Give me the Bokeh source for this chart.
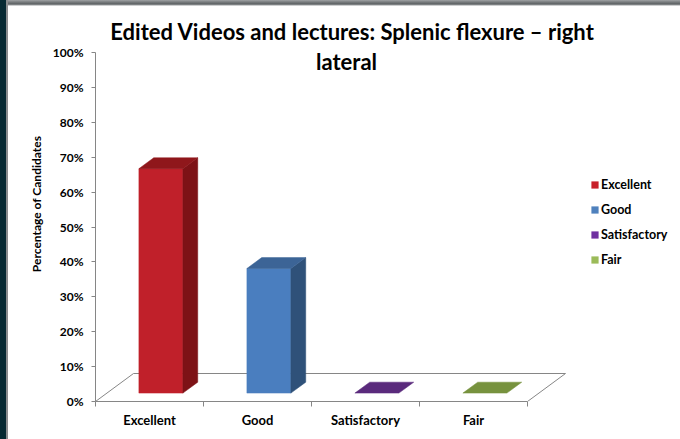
from bokeh.plotting import figure
from bokeh.models import Range1d, FixedTicker, NumeralTickFormatter, Legend, LegendItem, ColumnDataSource
from bokeh.core.properties import value
from bokeh.embed import file_html
from bokeh.resources import INLINE

# ---- data ----
categories = ["Excellent", "Good", "Satisfactory", "Fair"]
percentages = [64.3, 35.7, 0.0, 0.0]
front_colors = ["#C0202A", "#4A7EBF", "#5E2B82", "#77933C"]
side_colors = ["#7D1216", "#2F5179", "#3F1D57", "#55692A"]
top_colors = ["#8F171B", "#3C6496", "#5A2A7C", "#77923E"]
legend_colors = ["#C8202A", "#4F81BD", "#7030A0", "#9BBB59"]
y_ticks = [0.0, 0.1, 0.2, 0.3, 0.4, 0.5, 0.6, 0.7, 0.8, 0.9, 1.0]
title_line1 = "Edited Videos and lectures: Splenic flexure \u2013 right"
title_line2 = "lateral"
y_label = "Percentage of Candidates"

# ---- layout (page is padded 8px left / 6px top) ----
PAD_L, PAD_T = 8, 6
W, H = 672, 433
LEFT, BOTTOM = 87, 38
PX_CAT = 108.0      # pixels per category
PX_FULL = 349.0     # pixels per 100%
x_end = (W - LEFT) / PX_CAT
y_end = (H - BOTTOM) / PX_FULL
AX_X = PAD_L + LEFT          # page x of the value axis
AX_Y = PAD_T + H - BOTTOM    # page y of the 0% line

DX = 38.0 / PX_CAT   # floor depth in x units
DY = 28.0 / PX_FULL  # floor depth in y units
BW = 44.0 / PX_CAT   # bar front width
Z0, Z1 = 0.30, 0.69  # bar depth (front/back) as fraction of floor depth
AXIS_GRAY = "#868686"
FONT = "Lato"

p = figure(width=W, height=H, x_range=Range1d(0, x_end), y_range=Range1d(0, y_end),
           output_backend="svg", toolbar_location=None,
           min_border_left=LEFT, min_border_bottom=BOTTOM, min_border_top=0, min_border_right=0,
           background_fill_color="white", border_fill_color="white", outline_line_color=None)
p.xgrid.visible = False
p.ygrid.visible = False

# y axis
ya = p.yaxis[0]
ya.ticker = FixedTicker(ticks=y_ticks)
ya.formatter = NumeralTickFormatter(format="0%")
ya.bounds = (0, 1)
ya.axis_line_color = AXIS_GRAY
ya.major_tick_line_color = AXIS_GRAY
ya.major_tick_in = 0
ya.major_tick_out = 4
ya.minor_tick_line_color = None
ya.major_label_standoff = 8
ya.major_label_text_font = FONT
ya.major_label_text_font_style = "bold"
ya.major_label_text_font_size = "12px"
ya.major_label_text_color = "black"
ya.axis_label = y_label
ya.axis_label_text_font = FONT
ya.axis_label_text_font_style = "bold"
ya.axis_label_text_font_size = "12px"
ya.axis_label_text_color = "black"
ya.axis_label_standoff = 6

# x axis
n = len(categories)
centers = [i + 0.5 for i in range(n)]
xa = p.xaxis[0]
xa.ticker = FixedTicker(ticks=centers, minor_ticks=list(range(n + 1)))
xa.major_label_overrides = {c: cat for c, cat in zip(centers, categories)}
xa.bounds = (0, n)
xa.axis_line_color = AXIS_GRAY
xa.major_tick_line_color = None
xa.major_tick_in = 0
xa.major_tick_out = 0
xa.minor_tick_line_color = AXIS_GRAY
xa.minor_tick_in = 0
xa.minor_tick_out = 5
xa.major_label_standoff = 5
xa.major_label_text_font = FONT
xa.major_label_text_font_style = "bold"
xa.major_label_text_font_size = "13px"
xa.major_label_text_color = "black"

# floor outline (back + sides)
p.line(x=[0, DX, n + DX, n], y=[0, DY, DY, 0], line_color=AXIS_GRAY, line_width=1)

# 3D bars
xs, ys, cols = [], [], []
dx = (Z1 - Z0) * DX
dy = (Z1 - Z0) * DY
for c, v, fc, sc, tc in zip(centers, percentages, front_colors, side_colors, top_colors):
    h = v / 100.0
    x0 = c - BW / 2 + Z0 * DX
    x1 = x0 + BW
    b = Z0 * DY
    t = b + h
    if h > 0:
        xs.append([x0, x1, x1, x0]); ys.append([b, b, t, t]); cols.append(fc)
        xs.append([x1, x1 + dx, x1 + dx, x1]); ys.append([b, b + dy, t + dy, t]); cols.append(sc)
    xs.append([x0, x1, x1 + dx, x0 + dx]); ys.append([t, t, t + dy, t + dy]); cols.append(tc)
src = ColumnDataSource(dict(xs=xs, ys=ys, c=cols))
p.patches(xs="xs", ys="ys", source=src, fill_color="c", line_color="c", line_width=0.5)

# title (positions given in page pixels, converted to data units)
p.text(x=[(352 - AX_X) / PX_CAT, (346 - AX_X) / PX_CAT],
       y=[(AX_Y - 31) / PX_FULL, (AX_Y - 61) / PX_FULL],
       text=[title_line1, title_line2],
       text_font=value(FONT), text_font_style="bold", text_font_size="22px",
       text_align="center", text_baseline="middle", text_color="black")

# legend (dummy renderers with a single NaN point so the swatch colour exists)
nan = float("nan")
items = []
for cat, col in zip(categories, legend_colors):
    r = p.quad(left=[nan], right=[nan], top=[nan], bottom=[nan], fill_color=col, line_color=None)
    items.append(LegendItem(label=cat, renderers=[r]))
legend = Legend(items=items, location=(590 - AX_X, AX_Y - 267), orientation="vertical",
                glyph_width=9, glyph_height=9, label_standoff=2, label_height=14,
                spacing=10, padding=0, margin=0, border_line_color=None,
                background_fill_alpha=0, label_text_font=FONT,
                label_text_font_style="bold", label_text_font_size="12.5px",
                label_text_color="black")
p.add_layout(legend)

html = file_html(p, INLINE)
style = ("<style>\n"
         "html, body { margin: 0 !important; }\n"
         "body { padding: %dpx 0 0 %dpx !important; box-sizing: border-box !important; "
         "background: linear-gradient(to right, #062a33 0px, #062a33 6px, #8a8d8f 6px, #8a8d8f 8px, "
         "rgba(255,255,255,0) 8px), linear-gradient(to bottom, #a0a3a5 0px, #7a7e80 2px, #5c6163 4px, "
         "#9a9d9f 5px, #ffffff 6px) !important; }\n"
         "</style>\n</head>") % (PAD_T, PAD_L)
html = html.replace("</head>", style, 1)
open("out.html", "w").write(html)
